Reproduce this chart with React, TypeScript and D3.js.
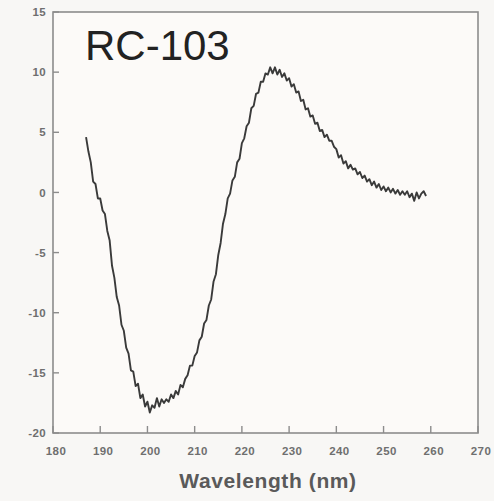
import React from "react";
import * as d3 from "d3";

// CD spectrum of RC-103, sampled every 0.5 nm from 187 to 259 nm
const startNm = 187;
const stepNm = 0.5;
const ellipticity: number[] = [
  4.6, 3.4, 2.5, 0.9, 0.7, -0.5, -0.5, -1.5, -1.8, -3.2,
  -4.0, -6.1, -7.1, -8.7, -9.4, -11.0, -11.5, -12.9, -13.4, -14.8,
  -14.9, -16.1, -15.9, -17.1, -16.8, -17.8, -17.4, -18.3, -17.7, -17.9,
  -17.1, -17.8, -17.2, -17.5, -17.2, -17.4, -16.8, -17.1, -16.5, -16.8,
  -16.0, -16.2, -15.5, -15.2, -14.4, -14.4, -13.6, -13.3, -12.3, -12.0,
  -10.9, -10.6, -9.4, -8.9, -7.4, -6.8, -5.2, -4.2, -2.6, -1.8,
  -0.5, -0.1, 1.0, 1.3, 2.5, 2.8, 4.1, 4.5, 5.5, 5.8,
  7.0, 7.2, 8.2, 8.3, 9.2, 9.2, 9.9, 9.8, 10.4, 9.9,
  10.4, 9.8, 10.2, 9.6, 9.9, 9.3, 9.5, 8.8, 9.0, 8.3,
  8.4, 7.6, 7.7, 6.9, 7.0, 6.3, 6.4, 5.7, 5.8, 5.1,
  5.2, 4.6, 4.8, 4.3, 4.3, 3.8, 3.6, 2.9, 3.1, 2.4,
  2.6, 2.0, 2.3, 1.9, 2.0, 1.5, 1.7, 1.2, 1.4, 0.9,
  1.1, 0.6, 0.9, 0.4, 0.7, 0.2, 0.5, 0.1, 0.4, 0.0,
  0.3, -0.1, 0.2, -0.2, 0.1, -0.2, 0.1, -0.4, -0.1, -0.7,
  0.0, -0.5, -0.1, 0.1, -0.3,
];

const xTicks = [180, 190, 200, 210, 220, 230, 240, 250, 260, 270];
const yTicks = [15, 10, 5, 0, -5, -10, -15, -20];
const title = "RC-103";
const xLabel = "Wavelength (nm)";

const W = 494;
const H = 501;
const plot = { left: 53, right: 478, top: 12, bottom: 433 };

export default function App() {
  const x = d3.scaleLinear().domain([180, 270]).range([plot.left, plot.right]);
  const y = d3.scaleLinear().domain([-20, 15]).range([plot.bottom, plot.top]);

  const points: [number, number][] = ellipticity.map((v, i) => [
    startNm + i * stepNm,
    v,
  ]);
  const line = d3
    .line<[number, number]>()
    .x((d) => x(d[0]))
    .y((d) => y(d[1]));

  const tickColor = "#8c8c8c";
  const labelColor = "#6f6f6f";
  const font = "'Liberation Sans', Arial, sans-serif";

  return (
    <svg
      width={W}
      height={H}
      style={{ position: "absolute", left: 0, top: 0, background: "#f8f7f5" }}
    >
      <rect
        x={plot.left}
        y={plot.top}
        width={plot.right - plot.left}
        height={plot.bottom - plot.top}
        fill="#fcfaf8"
        stroke={tickColor}
        strokeWidth={1.6}
      />
      {yTicks.map((t) => (
        <g key={"y" + t}>
          <line
            x1={plot.left}
            x2={plot.left + 6}
            y1={y(t)}
            y2={y(t)}
            stroke={tickColor}
            strokeWidth={1.4}
          />
          <text
            x={46}
            y={y(t)}
            dy="0.36em"
            textAnchor="end"
            fontFamily={font}
            fontWeight="bold"
            fontSize={11.5}
            letterSpacing={0.4}
            fill={labelColor}
          >
            {t}
          </text>
        </g>
      ))}
      {xTicks.map((t) => (
        <g key={"x" + t}>
          <line
            x1={x(t)}
            x2={x(t)}
            y1={plot.bottom}
            y2={plot.bottom - 7}
            stroke={tickColor}
            strokeWidth={1.4}
          />
          <text
            x={x(t) + 3}
            y={455}
            textAnchor="middle"
            fontFamily={font}
            fontWeight="bold"
            fontSize={11.5}
            letterSpacing={0.4}
            fill={labelColor}
          >
            {t}
          </text>
        </g>
      ))}
      <path
        d={line(points) ?? ""}
        fill="none"
        stroke="#3a3a3a"
        strokeWidth={1.9}
        strokeLinejoin="round"
      />
      <text x={85} y={60} fontFamily={font} fontSize={42} fill="#222">
        {title}
      </text>
      <text
        x={268}
        y={488}
        textAnchor="middle"
        fontFamily={font}
        fontWeight="bold"
        fontSize={21}
        letterSpacing={0.6}
        fill="#5a5a5a"
      >
        {xLabel}
      </text>
    </svg>
  );
}
